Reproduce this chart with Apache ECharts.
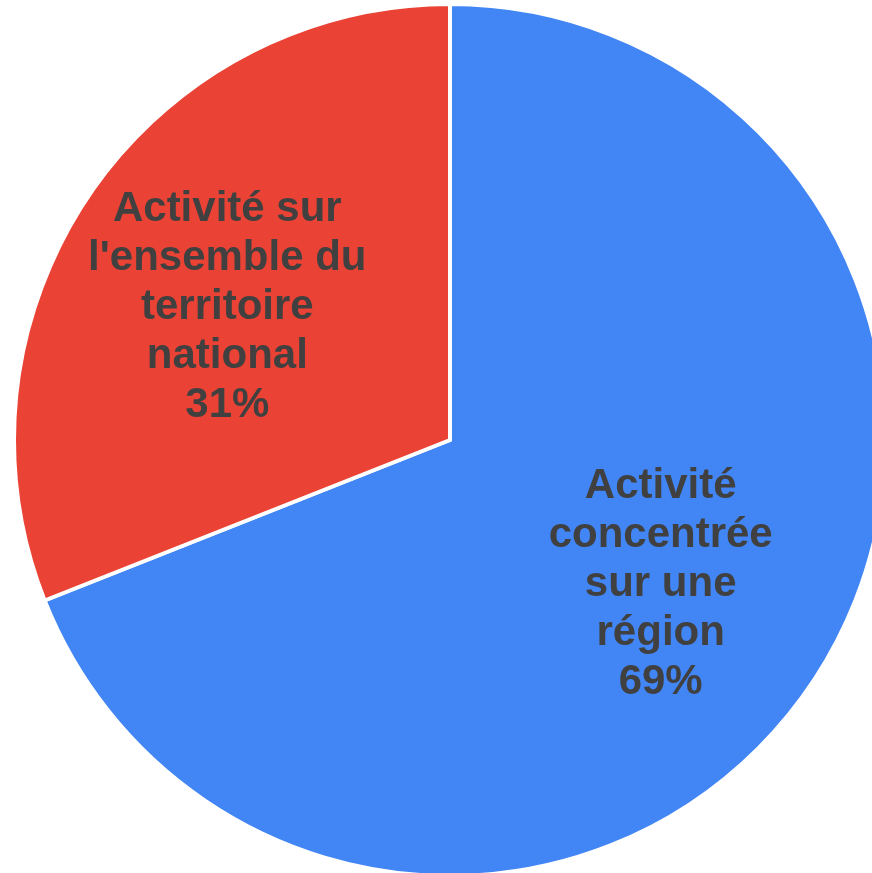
<!DOCTYPE html>
<html>
<head>
<meta charset="utf-8">
<script src="https://cdn.jsdelivr.net/npm/echarts@6/dist/echarts.min.js"></script>
<style>
  html, body { margin: 0; padding: 0; background: #fff; }
  #chart { width: 872px; height: 873px; }
</style>
</head>
<body>
<div id="chart"></div>
<script>
const categories = [
  'Activité\nconcentrée\nsur une\nrégion',
  "Activité sur\nl'ensemble du\nterritoire\nnational"
];
const shares = [69, 31];
const colors = ['#4285F4', '#EA4335'];

const pieCenter = [450, 440];
// small per-slice nudges of the labels (px)
const labelNudge = [[-5, -2], [-7, 14]];

const chart = echarts.init(document.getElementById('chart'));

chart.setOption({
  animation: false,
  series: [
    {
      type: 'pie',
      center: pieCenter,
      radius: 436,
      startAngle: 90,
      clockwise: true,
      data: categories.map((name, i) => ({
        name: name,
        value: shares[i],
        itemStyle: { color: colors[i] }
      })),
      itemStyle: { borderColor: '#fff', borderWidth: 4 },
      label: {
        show: true,
        position: 'inside',
        formatter: '{b}\n{d}%',
        color: '#404040',
        fontFamily: 'Liberation Sans, Arial, sans-serif',
        fontWeight: 'bold',
        fontSize: 42,
        lineHeight: 49,
        align: 'center'
      },
      labelLine: { show: false },
      emphasis: { disabled: true },
      // push the inside labels a bit further out along their radius
      labelLayout: function (params) {
        const r = params.labelRect;
        const lx = r.x + r.width / 2;
        const ly = r.y + r.height / 2;
        const n = labelNudge[params.dataIndex] || [0, 0];
        return {
          dx: (lx - pieCenter[0]) * 0.18 + n[0],
          dy: (ly - pieCenter[1]) * 0.18 + n[1]
        };
      }
    }
  ]
});

window.addEventListener('resize', () => chart.resize());
</script>
</body>
</html>
